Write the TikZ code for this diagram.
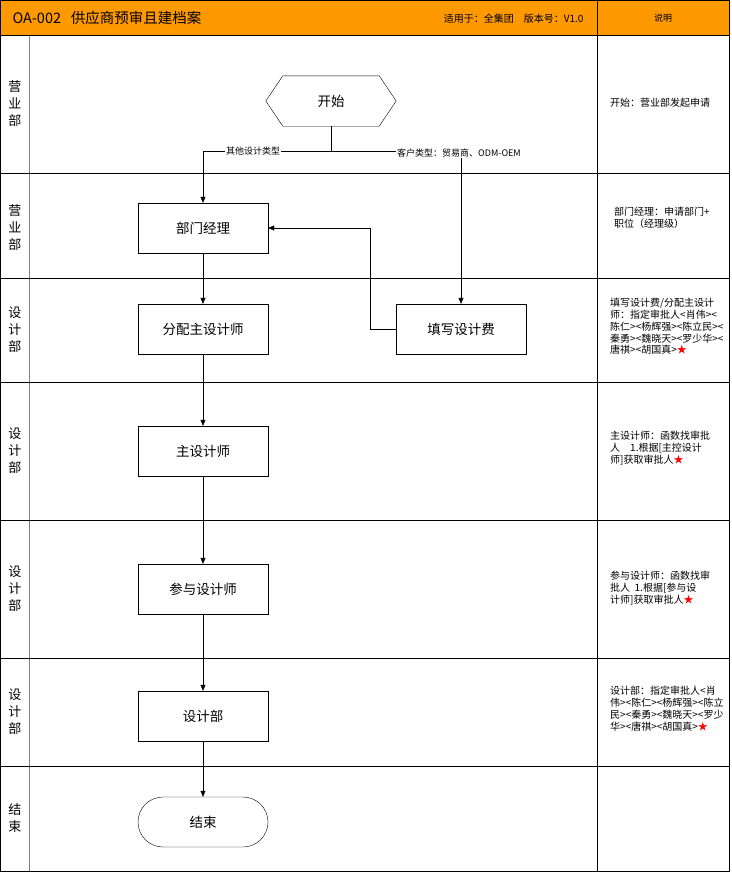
\documentclass[tikz,border=0pt]{standalone}
\usepackage{fontspec}
\setmainfont{Noto Sans CJK SC}
\usetikzlibrary{arrows.meta}
\definecolor{headorange}{RGB}{255,153,0}
\newcommand{\redstar}{\textcolor{red}{★}}

\begin{document}
\begin{tikzpicture}[x=1pt,y=-1pt,
    box/.style={draw,minimum width=130pt,minimum height=50pt,font=\fontsize{13.5}{16}\selectfont},
    lane/.style={align=center,font=\fontsize{13}{17}\selectfont},
    note/.style={anchor=north west,align=left,inner sep=0pt,font=\fontsize{10}{11.8}\selectfont},
    tag/.style={fill=white,inner sep=1pt,font=\fontsize{9}{11}\selectfont},
    flow/.style={-{Triangle[length=6pt,width=5pt]}}]
    \useasboundingbox (0,0) rectangle (731,875);

    \fill[headorange] (0,0) rectangle (729,35);
    \draw[thick] (0.5,0.5) rectangle (729,871);
    \draw[thick] (597,0) -- (597,871);
    \draw[thick,gray] (29,35) -- (29,871);
    \foreach \y in {35,173,278,382,520,658,766}
      \draw[thick] (0,\y) -- (729,\y);

    \node[anchor=west,font=\fontsize{14.5}{17}\selectfont] (title) at (9,18) {OA-002\ \ \ 供应商预审且建档案};
    \node[anchor=east,font=\fontsize{10}{12}\selectfont] (scope) at (587,19) {适用于：全集团\quad 版本号：V1.0};
    \node[font=\fontsize{9}{11}\selectfont] (notehead) at (663,18) {说明};

    \node[lane] (lane1) at (15,104) {营\\业\\部};
    \node[lane] (lane2) at (15,228) {营\\业\\部};
    \node[lane] (lane3) at (15,330) {设\\计\\部};
    \node[lane] (lane4) at (15,451) {设\\计\\部};
    \node[lane] (lane5) at (15,589) {设\\计\\部};
    \node[lane] (lane6) at (15,712) {设\\计\\部};
    \node[lane] (lane7) at (15,818) {结\\束};

    \node[minimum width=130pt,minimum height=50pt,font=\fontsize{13.5}{16}\selectfont] (start) at (331,101) {开始};
    \draw (start.west) -- ([xshift=17pt]start.north west) -- ([xshift=-17pt]start.north east)
      -- (start.east) -- ([xshift=-17pt]start.south east) -- ([xshift=17pt]start.south west) -- cycle;
    \node[box] (mgr) at (203,228) {部门经理};
    \node[box] (assign) at (203,329) {分配主设计师};
    \node[box] (fee) at (461,329) {填写设计费};
    \node[box] (chief) at (203,451) {主设计师};
    \node[box] (part) at (203,589) {参与设计师};
    \node[box] (dept) at (203,716) {设计部};
    \node[box,rounded corners=25pt] (end) at (203,822) {结束};

    \coordinate (split) at (331,151);
    \draw[thick] (start.south) -- (split);
    \draw[flow] (split) -| (mgr.north);
    \draw[flow] (split) -| (fee.north);
    \node[tag] (other) at (253,151) {其他设计类型};
    \node[tag] (cust) at (459,153) {客户类型：贸易商、ODM-OEM};
    \draw[flow] (fee.west) -- ++(-26pt,0) |- (mgr.east);
    \draw[flow] (mgr) -- (assign);
    \draw[flow] (assign) -- (chief);
    \draw[flow] (chief) -- (part);
    \draw[flow] (part) -- (dept);
    \draw[flow] (dept) -- (end);

    \node[note] (n1) at (610,98) {开始：营业部发起申请};
    \node[note] (n2) at (614,207) {部门经理：申请部门+\\职位（经理级）};
    \node[note] (n3) at (610,298) {填写设计费/分配主设计\\师：指定审批人<肖伟><\\陈仁><杨辉强><陈立民><\\秦勇><魏晓天><罗少华><\\唐祺><胡国真>\redstar};
    \node[note] (n4) at (610,431) {主设计师：函数找审批\\人\quad 1.根据[主控设计\\师]获取审批人\redstar};
    \node[note] (n5) at (610,571) {参与设计师：函数找审\\批人\ \ 1.根据[参与设\\计师]获取审批人\redstar};
    \node[note] (n6) at (610,686) {设计部：指定审批人<肖\\伟><陈仁><杨辉强><陈立\\民><秦勇><魏晓天><罗少\\华><唐祺><胡国真>\redstar};
  \end{tikzpicture}
\end{document}
